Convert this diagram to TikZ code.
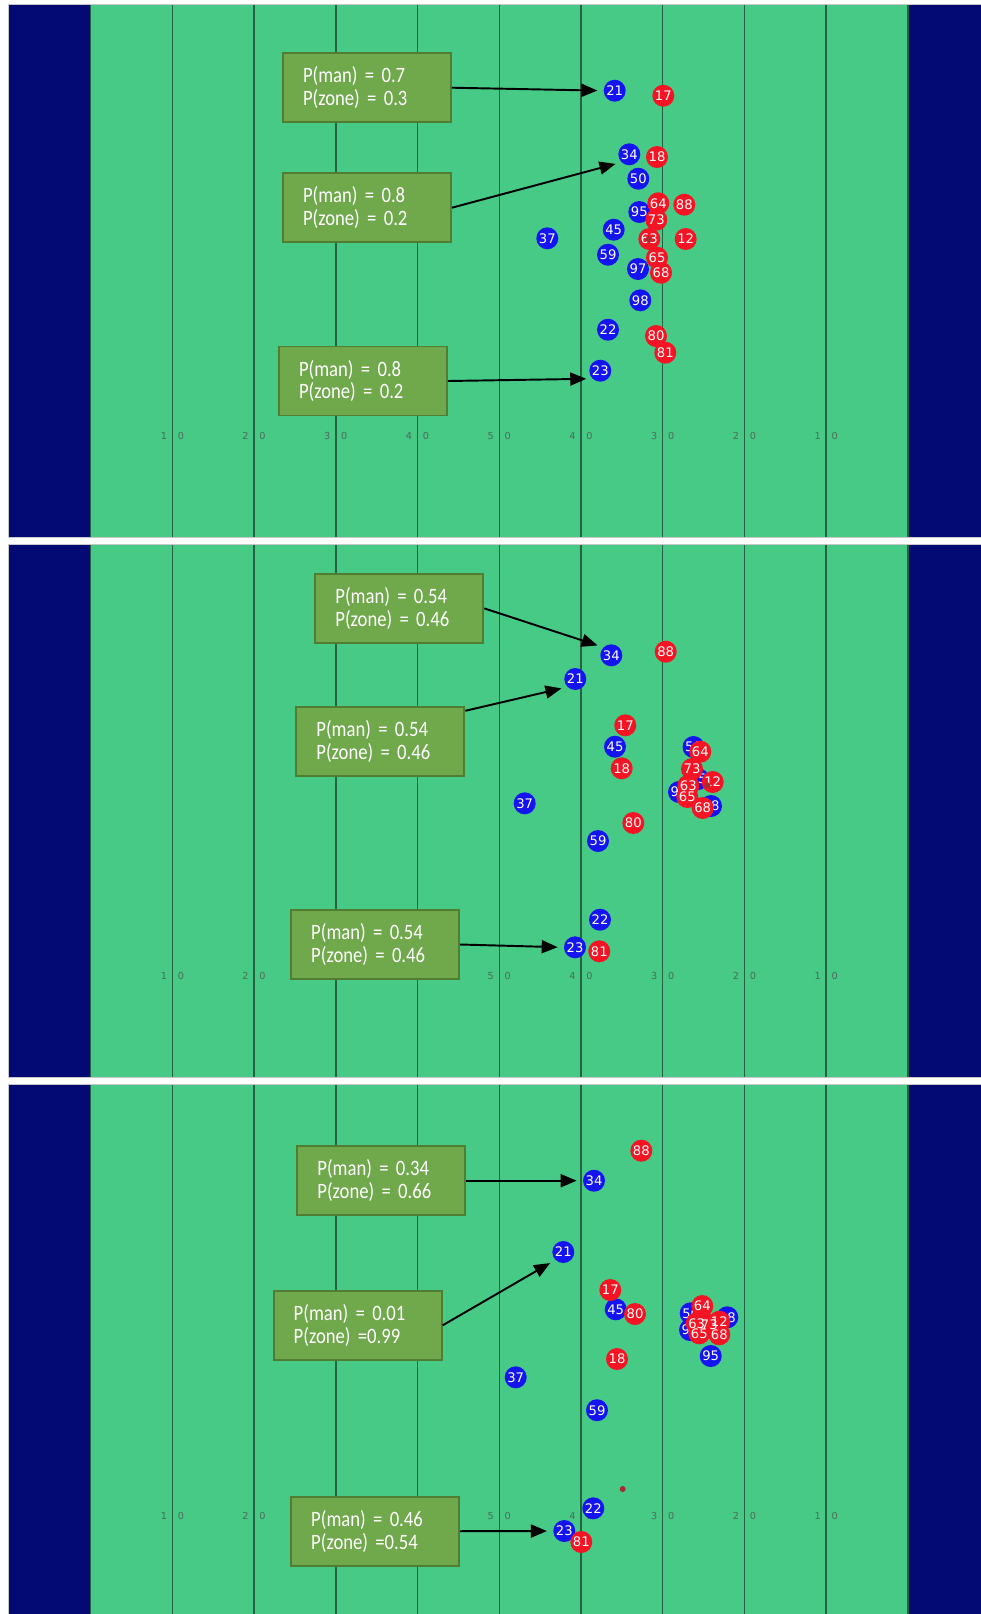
\documentclass[tikz,border=0pt]{standalone}
\usepackage{fontspec}
\setmainfont{DejaVu Sans}
\newfontfamily\boxfont[FakeStretch=0.85]{Carlito}
\usetikzlibrary{arrows.meta}

\definecolor{endzone}{RGB}{4,10,115}
\definecolor{turf}{RGB}{70,202,134}
\definecolor{yardline}{RGB}{38,98,66}
\definecolor{yardnum}{RGB}{80,105,90}
\definecolor{panelrim}{RGB}{200,200,200}
\definecolor{boxfill}{RGB}{112,168,76}
\definecolor{boxedge}{RGB}{80,125,50}
\definecolor{offense}{RGB}{20,20,240}
\definecolor{defense}{RGB}{245,20,35}
\definecolor{ballspot}{RGB}{165,45,50}

\tikzset{
  blueplayer/.style={circle, fill=offense, inner sep=0pt, minimum size=0.44cm},
  redplayer/.style={blueplayer, fill=defense},
  jersey/.style={text=white, inner sep=0pt, font=\fontsize{7.5}{8}\selectfont},
  ball/.style={circle, fill=ballspot, inner sep=0pt, minimum size=0.12cm},
  yardnum/.style={text=yardnum, inner sep=0pt, font=\fontsize{5.5}{6}\selectfont},
  probbox/.style={draw=boxedge, line width=1.1pt, fill=boxfill, text=white, align=left,
    text width=2.56cm, inner xsep=0.4cm, minimum height=1.38cm,
    font=\boxfont\fontsize{12.5}{13}\selectfont},
  pointer/.style={-{Triangle[length=0.32cm, width=0.26cm]}, line width=1.1pt, shorten >=0.12cm},
}

\begin{document}
\begin{tikzpicture}[x=0.02cm, y=-0.02cm]
  \useasboundingbox (0,0) rectangle (981,1614);

  % the three fields (yard marks under the lower boxes are left out)
  \foreach \py/\pn/\marks in {4/a/{1/1,2/2,3/3,4/4,5/5,6/4,7/3,8/2,9/1},
                              544/b/{1/1,2/2,5/5,6/4,7/3,8/2,9/1},
                              1084/c/{1/1,2/2,5/5,6/4,7/3,8/2,9/1}} {
    \draw[panelrim, fill=endzone] (8,\py) rectangle (995,\py+533);
    \fill[turf] (90.6,\py+0.5) rectangle (908.3,\py+532.5);
    \foreach \k in {0,...,10}
      \draw[yardline, line width=0.85pt] (90.6+81.73*\k,\py+0.5) -- (90.6+81.73*\k,\py+532.5);
    \foreach \k/\d in \marks {
      \node[yardnum] (\pn tens\k) at (90.6+81.73*\k-8.5,\py+432) {\d};
      \node[yardnum] (\pn ones\k) at (90.6+81.73*\k+8.5,\py+432) {0};
    }
  }

  % players: number/x/y
  \def\bluea{21/614.7/90.7, 34/629.3/154.3, 50/638.3/178.7, 95/639.3/212, 45/613.7/229.7,
    37/547.3/238.3, 59/608/254.7, 97/638/269, 98/640.3/300.3, 22/608/329.7, 23/600.3/370.7}
  \def\reda{17/663.3/95.7, 18/657/157, 64/658.3/203.3, 88/684.3/204.7, 73/656.3/219.7,
    12/685.7/239, 63/649.3/239, 65/657/257.7, 68/661/272.7, 80/656/336, 81/665.3/352.7}
  \def\blueb{34/611.3/655.3, 21/575.3/679, 45/615/746.7, 50/693.5/747, 95/698/779,
    97/679/792, 98/711/806, 37/524.7/803.3, 59/598/841, 22/600/919.7, 23/575/947.3}
  \def\redb{88/665.7/651.7, 17/625.3/725.3, 18/621.7/768.3, 64/700.3/751.7, 73/692/769,
    12/712.7/782, 63/688.3/785.7, 65/687.3/797, 68/702.7/808, 80/633.3/823, 81/599.3/951.3}
  \def\bluec{34/594/1180.7, 21/563.3/1252, 45/615.7/1309.3, 50/690.7/1313.3, 98/727.3/1317.3,
    97/690/1330, 95/710.7/1356, 37/515.7/1377.3, 59/597/1410.2, 22/593.3/1508.3, 23/564.3/1531}
  \def\redc{88/641.3/1150.7, 17/610.3/1290, 80/635/1314, 18/617/1359, 73/709.3/1325,
    64/702.3/1306, 63/696.7/1323.3, 12/719.3/1321.7, 65/699.3/1333.3, 68/719.3/1334.3, 81/581.3/1542}

  \foreach \n/\x/\y in \bluea {\node[blueplayer] (pa\n) at (\x,\y) {};}
  \foreach \n/\x/\y in \bluea {\node[jersey] (pa\n no) at (pa\n) {\n};}
  \foreach \n/\x/\y in \reda {\node[redplayer] (pa\n) at (\x,\y) {};}
  \foreach \n/\x/\y in \reda {\node[jersey] (pa\n no) at (pa\n) {\n};}
  \node[ball] (balla) at (648.7,239.3) {};

  \foreach \n/\x/\y in \blueb {\node[blueplayer] (pb\n) at (\x,\y) {};}
  \foreach \n/\x/\y in \blueb {\node[jersey] (pb\n no) at (pb\n) {\n};}
  \foreach \n/\x/\y in \redb {\node[redplayer] (pb\n) at (\x,\y) {};}
  \foreach \n/\x/\y in \redb {\node[jersey] (pb\n no) at (pb\n) {\n};}
  \node[ball] (ballb) at (707.3,785.3) {};

  \foreach \n/\x/\y in \bluec {\node[blueplayer] (pc\n) at (\x,\y) {};}
  \foreach \n/\x/\y in \bluec {\node[jersey] (pc\n no) at (pc\n) {\n};}
  \foreach \n/\x/\y in \redc {\node[redplayer] (pc\n) at (\x,\y) {};}
  \foreach \n/\x/\y in \redc {\node[jersey] (pc\n no) at (pc\n) {\n};}
  \node[ball] (ballc) at (622.7,1489) {};

  % coverage probabilities
  \node[probbox] (boxa1) at (367,87.7) {P(man) = 0.7\\P(zone) = 0.3};
  \node[probbox] (boxa2) at (367,207.7) {P(man) = 0.8\\P(zone) = 0.2};
  \node[probbox] (boxa3) at (363,381) {P(man) = 0.8\\P(zone) = 0.2};
  \node[probbox] (boxb1) at (399.4,608.4) {P(man) = 0.54\\P(zone) = 0.46};
  \node[probbox] (boxb2) at (380.4,741.7) {P(man) = 0.54\\P(zone) = 0.46};
  \node[probbox] (boxb3) at (375.2,944.5) {P(man) = 0.54\\P(zone) = 0.46};
  \node[probbox] (boxc1) at (381.4,1180.7) {P(man) = 0.34\\P(zone) = 0.66};
  \node[probbox] (boxc2) at (357.7,1325.3) {P(man) = 0.01\\P(zone) =0.99};
  \node[probbox] (boxc3) at (375.2,1531.2) {P(man) = 0.46\\P(zone) =0.54};

  \draw[pointer] (boxa1.east) -- (pa21.west);
  \draw[pointer] (boxa2.east) -- (pa34.south west);
  \draw[pointer] (boxa3.east) -- (pa23.south west);
  \draw[pointer] (boxb1.east) -- (pb34.north west);
  \draw[pointer] (boxb2.20) -- (pb21.south west);
  \draw[pointer] (boxb3.east) -- (pb23.west);
  \draw[pointer] (boxc1.east) -- (pc34.west);
  \draw[pointer] (boxc2.east) -- (pc21.south west);
  \draw[pointer] (boxc3.east) -- (pc23.west);
\end{tikzpicture}
\end{document}
